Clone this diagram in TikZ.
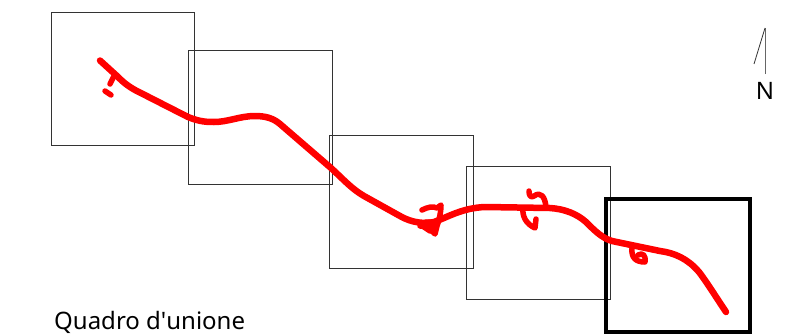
\documentclass[tikz,border=0pt]{standalone}
\usepackage{fontspec}
\setmainfont{Noto Sans}
\usepackage{tikz}
\tikzset{
sheet/.style={draw=black!80,line width=1pt},
sheetmain/.style={draw=black,line width=4pt},
road/.style={draw=red,line width=6.5pt,line cap=round,line join=round},
scribble/.style={draw=red,line width=5.5pt,line cap=round,line join=round},
label/.style={inner sep=0pt,font=\fontsize{24}{28}\selectfont}
}
\begin{document}
\begin{tikzpicture}[x=1pt,y=-1pt]
\useasboundingbox (0,0) rectangle (794,335);
% the sheets
\foreach \x/\y in {51/12,188.5/50.5,329.5/135,466.5/166}
{
  \draw[sheet] (\x,\y) rectangle +(143.5,133.5);
}
\draw[sheetmain] (606,198.5) rectangle (750,332);
% the road
\draw[road] (100,60.5) -- (117,76) .. controls (124,83) and (128,86) .. (135,90)
  -- (188,117) .. controls (200,122) and (208,122) .. (214,122)
  .. controls (228,122) and (240,116) .. (255,116)
  .. controls (265,116) and (273,118) .. (280,124)
  -- (331,168) .. controls (345,181) and (352,189) .. (364,196)
  -- (400,216) .. controls (412,223) and (425,224) .. (434,222)
  .. controls (448,217) and (462,208) .. (485,207)
  -- (550,208) .. controls (565,209) and (577,214) .. (586,222)
  .. controls (595,231) and (602,238) .. (612,241)
  -- (660,251) .. controls (675,253) and (688,259) .. (699,272)
  .. controls (706,281) and (716,297) .. (726,312);
% the scribbles
\draw[scribble] (114,76) -- (110,84);
\draw[scribble] (105,91) -- (111,95);
\draw[scribble] (422,210) .. controls (428,207) and (433,206) .. (437,208) -- (441,205)
  .. controls (441,213) and (439,220) .. (437,226) -- (435,234) -- (431,230);
\draw[scribble] (420,226) -- (436,228);
\draw[scribble] (426,222) -- (438,222) -- (430,231) -- (424,227);
\draw[scribble] (529,191) .. controls (529,196) and (531,198) .. (534,196)
  .. controls (541,191) and (545,197) .. (546,207);
\draw[scribble] (523,208) .. controls (522,216) and (526,224) .. (535,228) -- (536,219);
\draw[scribble] (632,248) .. controls (631,258) and (636,262) .. (645,262)
  .. controls (646,256) and (643,252) .. (638,255);
% the north sign
\coordinate (nbase) at (765,74);
\coordinate (ntip) at (765,28);
\coordinate (nfoot) at (754,64);
\draw[black!60,line width=1pt] (nbase) -- (ntip);
\draw[black!80,line width=.8pt] (ntip) -- (nfoot);
\node[label,anchor=base] (north) at (765,99) {N};
\node[label,anchor=base west] (title) at (54,329.5) {Quadro d\textquotesingle unione};
\end{tikzpicture}
\end{document}
